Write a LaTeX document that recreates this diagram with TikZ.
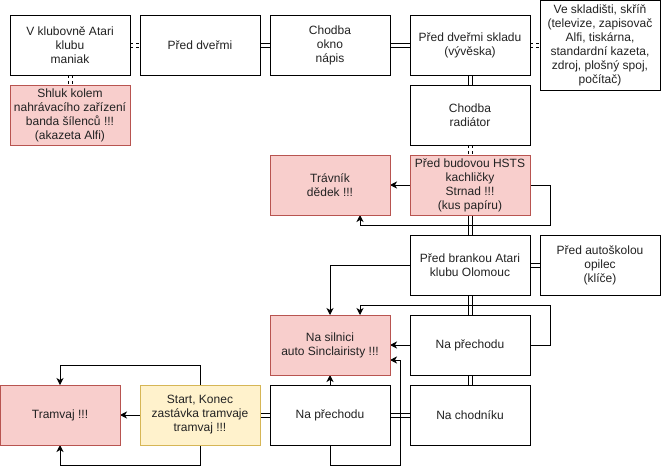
\documentclass[tikz,border=0pt]{standalone}
\usepackage{fontspec}
\setmainfont{Liberation Sans}
\usetikzlibrary{arrows.meta}
\pgfdeclarelayer{bg}
\pgfsetlayers{bg,main}
\definecolor{redfill}{HTML}{F8CECC}
\definecolor{redline}{HTML}{B85450}
\definecolor{yelfill}{HTML}{FFF2CC}
\definecolor{yelline}{HTML}{D6B656}
\definecolor{txt}{HTML}{222222}
\tikzset{
  box/.style={draw=black, fill=white, line width=1pt, minimum width=120pt, minimum height=60pt,
    inner sep=0pt, outer sep=0pt, align=center, text=txt, font=\fontsize{12}{14}\selectfont},
  redbox/.style={box, draw=redline, fill=redfill},
  yelbox/.style={box, draw=yelline, fill=yelfill},
  dlink/.style={draw=black, line width=1pt, double=white, double distance=3pt},
  dashlink/.style={dlink, dash pattern=on 3pt off 3pt},
  arr/.style={draw=black, line width=1pt, -{Stealth[length=7pt,width=7pt,inset=2pt]}},
}
\begin{document}
\begin{tikzpicture}[x=1pt,y=-1pt]
\useasboundingbox (0,0) rectangle (661,474);
\node[box] (A) at (70,45) {V klubovně Atari\\klubu\\maniak};
\node[box] (B) at (200,45) {Před dveřmi};
\node[box] (C) at (330,45) {Chodba\\okno\\nápis};
\node[box] (D) at (470,45) {Před dveřmi skladu\\(vývěska)};
\node[box, minimum height=89.5pt] (E) at (600,45.25) {Ve skladišti, skříň\\(televize, zapisovač\\Alfi, tiskárna,\\standardní kazeta,\\zdroj, plošný spoj,\\počítač)};
\node[box] (F) at (470,115) {Chodba\\radiátor};
\node[redbox] (G) at (70,115) {Shluk kolem\\nahrávacího zařízení\\banda šílenců !!!\\(akazeta Alfi)};
\node[redbox] (H) at (330,185) {Trávník\\dědek !!!};
\node[redbox] (I) at (470,185) {Před budovou HSTS\\kachličky\\Strnad !!!\\(kus papíru)};
\node[box] (J) at (470,265) {Před brankou Atari\\klubu Olomouc};
\node[box] (K) at (600,265) {Před autoškolou\\opilec\\(klíče)};
\node[redbox] (L) at (330,345) {Na silnici\\auto Sinclairisty !!!};
\node[box] (M) at (470,345) {Na přechodu};
\node[box] (N) at (330,415) {Na přechodu};
\node[box] (O) at (470,415) {Na chodníku};
\node[yelbox] (P) at (200,415) {Start, Konec\\zastávka tramvaje\\tramvaj !!!};
\node[redbox] (Q) at (60,415) {Tramvaj !!!};
\begin{pgfonlayer}{bg}
\draw[dashlink] (A.east) -- (B.west);
\draw[dashlink] (A.south) -- (G.north);
\draw[dlink] (B.east) -- (C.west);
\draw[dlink] (C.east) -- (D.west);
\draw[dashlink] (D.east) -- (D.east -| E.west);
\draw[dlink] (D.south) -- (F.north);
\draw[dashlink] (F.south) -- (I.north);
\draw[dlink] (I.south) -- (J.north);
\draw[dlink] (J.east) -- (K.west);
\draw[dlink] (J.south) -- (M.north);
\draw[dlink] (M.south) -- (O.north);
\draw[dlink] (N.east) -- (O.west);
\draw[dlink] (P.east) -- (N.west);
\draw[arr] (I.west) -- (H.east);
\draw[arr] (I.east) -| ++(20,40) -| ([xshift=30pt]H.south);
\draw[arr] (J.west) -| (L.north);
\draw[arr] (M.west) -- (L.east);
\draw[arr] (M.east) -| ++(20,-40) -| ([xshift=30pt]L.north);
\draw[arr] (N.north) -- (L.south);
\draw[arr] (N.south) -- ++(0,20) -| ++(70,-105) -- ([yshift=-15pt]L.east);
\draw[arr] (P.west) -- (Q.east);
\draw[arr] (P.north) -- ++(0,-20) -| (Q.north);
\draw[arr] (P.south) -- ++(0,20) -| (Q.south);
\end{pgfonlayer}
\end{tikzpicture}
\end{document}
